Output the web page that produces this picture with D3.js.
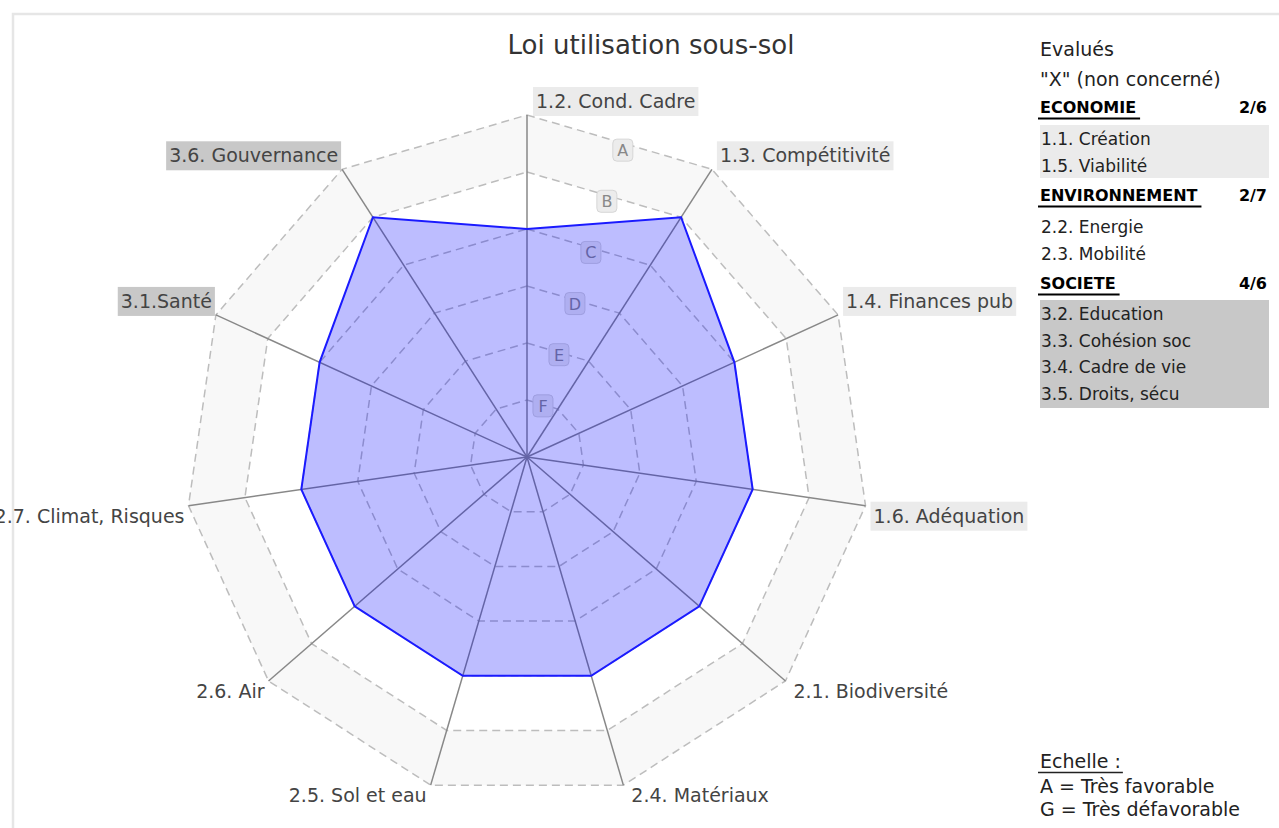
<!DOCTYPE html>
<html><head><meta charset="utf-8">
<script src="https://cdn.jsdelivr.net/npm/d3@7"></script>
<style>body{margin:0;background:#fff;overflow:hidden}svg{display:block}text{font-family:"DejaVu Sans",Verdana,sans-serif}</style>
</head><body>
<svg id="chart" width="1279" height="828"></svg>
<script>
// ---- data ----
const title = "Loi utilisation sous-sol";
const axes = ["1.2. Cond. Cadre", "1.3. Compétitivité", "1.4. Finances pub", "1.6. Adéquation",
  "2.1. Biodiversité", "2.4. Matériaux", "2.5. Sol et eau", "2.6. Air",
  "2.7. Climat, Risques", "3.1.Santé", "3.6. Gouvernance"];
const axisGroup = ["eco","eco","eco","eco","env","env","env","env","env","soc","soc"];
const values = [4, 5, 4, 4, 4, 4, 4, 4, 4, 4, 5];
const levelLabels = ["G", "F", "E", "D", "C", "B", "A"]; // level 0..6
const legendHead = ["Evalués", "\"X\" (non concerné)"];
const groupNames = ["ECONOMIE", "ENVIRONNEMENT", "SOCIETE"];
const groupKeys = ["eco", "env", "soc"];
const groupCounts = ["2/6", "2/7", "4/6"];
const groupItems = [["1.1. Création", "1.5. Viabilité"],
  ["2.2. Energie", "2.3. Mobilité"],
  ["3.2. Education", "3.3. Cohésion soc", "3.4. Cadre de vie", "3.5. Droits, sécu"]];
const scaleTitle = "Echelle :";
const scaleLines = ["A = Très favorable", "G = Très défavorable"];

// ---- styles ----
const groupFill = {eco: "#ebebeb", env: "none", soc: "#c8c8c8"};
const svg = d3.select("#chart");
const cx = 527, cy = 457, R = 342;
const n = axes.length;
const r = d3.scaleLinear().domain([0, 6]).range([0, R]);
const ang = d3.scaleLinear().domain([0, n]).range([0, 2 * Math.PI]);
const pt = (rad, a) => [cx + rad * Math.sin(a), cy - rad * Math.cos(a)];
const line = d3.line().curve(d3.curveLinearClosed);

// frame
svg.append("rect").attr("x", 13).attr("y", 14).attr("width", 1300).attr("height", 850)
  .attr("fill", "#fff").attr("stroke", "#e6e6e6").attr("stroke-width", 2.5);

// bands
const levels = d3.range(6, 0, -1);
levels.forEach(k => {
  svg.append("path").attr("d", line(d3.range(n).map(i => pt(r(k), ang(i)))))
    .attr("fill", k === 6 ? "#f8f8f8" : "#ffffff").attr("stroke", "none");
});
// rings
levels.forEach(k => {
  svg.append("path").attr("d", line(d3.range(n).map(i => pt(r(k), ang(i)))))
    .attr("fill", "none").attr("stroke", "#bdbdbd").attr("stroke-width", 1.5)
    .attr("stroke-dasharray", "8,5");
});
// axes
d3.range(n).forEach(i => {
  const p = pt(r(6), ang(i));
  svg.append("line").attr("x1", cx).attr("y1", cy).attr("x2", p[0]).attr("y2", p[1])
    .attr("stroke", "#888").attr("stroke-width", 1.5);
});
// level labels
const la = ang(0.53);
d3.range(1, 7).forEach(k => {
  const p = pt(r(k) * 0.94, la);
  const g = svg.append("g").attr("transform", `translate(${p[0]},${p[1]})`);
  g.append("rect").attr("x", -10).attr("y", -11).attr("width", 20).attr("height", 22).attr("rx", 4)
    .attr("fill", "#ececec").attr("stroke", "#d6d6d6").attr("stroke-width", 1);
  g.append("text").attr("text-anchor", "middle").attr("y", 6).attr("font-size", 16)
    .attr("fill", "#888").text(levelLabels[k]);
});
// data polygon
svg.append("path").attr("d", line(values.map((v, i) => pt(r(v), ang(i)))))
  .attr("fill", "#0000ff").attr("fill-opacity", 0.26)
  .attr("stroke", "#1a1aff").attr("stroke-width", 2).attr("stroke-linejoin", "miter");

// axis labels
axes.forEach((name, i) => {
  const a = ang(i);
  const p = pt(r(6), a);
  const right = Math.sin(a) >= -1e-6;
  const up = Math.cos(a) > 0;
  const cyL = up ? p[1] - 14 : p[1] + 10;
  const g = svg.append("g");
  const t = g.append("text").attr("font-size", 19).attr("fill", "#444")
    .attr("x", right ? p[0] + (i === 0 ? 9 : 8) : p[0] - 4)
    .attr("y", cyL + 7).attr("text-anchor", right ? "start" : "end").text(name);
  const fill = groupFill[axisGroup[i]];
  if (fill !== "none") {
    const bb = t.node().getBBox();
    g.insert("rect", "text").attr("x", bb.x - 3).attr("y", cyL - 14).attr("width", bb.width + 6)
      .attr("height", 29).attr("fill", fill);
  }
});

// title
svg.append("text").attr("x", 651).attr("y", 54).attr("text-anchor", "middle")
  .attr("font-size", 26).attr("fill", "#333").text(title);

// legend
const lx = 1040, rx = 1267;
svg.selectAll(".lh").data(legendHead).join("text").attr("class", "lh")
  .attr("x", lx).attr("y", (d, i) => 56 + i * 30).attr("font-size", 19).attr("fill", "#222").text(d => d);
const headY = [113, 201, 289];
const boxY = [125, 213, 300];
const boxH = [53, 53, 108];
groupNames.forEach((gname, gi) => {
  const y = headY[gi];
  const t = svg.append("text").attr("x", lx).attr("y", y).attr("font-size", 16)
    .attr("font-weight", "bold").attr("fill", "#000").text(gname);
  const w = t.node().getComputedTextLength();
  svg.append("line").attr("x1", lx - 2).attr("x2", lx + w + 4).attr("y1", y + 5.5).attr("y2", y + 5.5)
    .attr("stroke", "#000").attr("stroke-width", 2);
  svg.append("text").attr("x", rx).attr("y", y).attr("text-anchor", "end").attr("font-size", 16)
    .attr("font-weight", "bold").attr("fill", "#000").text(groupCounts[gi]);
  const f = groupFill[groupKeys[gi]];
  svg.append("rect").attr("x", lx).attr("y", boxY[gi]).attr("width", 229).attr("height", boxH[gi])
    .attr("fill", f === "none" ? "#fff" : f);
  groupItems[gi].forEach((it, j) => {
    svg.append("text").attr("x", lx + 1).attr("y", boxY[gi] + 20 + j * 26.5).attr("font-size", 17)
      .attr("fill", "#222").text(it);
  });
});
// scale legend
const st = svg.append("text").attr("x", lx).attr("y", 768).attr("font-size", 19).attr("fill", "#222").text(scaleTitle);
const sw = st.node().getComputedTextLength();
svg.append("line").attr("x1", lx - 2).attr("x2", lx + sw + 2).attr("y1", 772.5).attr("y2", 772.5)
  .attr("stroke", "#222").attr("stroke-width", 1.5);
scaleLines.forEach((s, i) => {
  svg.append("text").attr("x", lx).attr("y", 793 + i * 23).attr("font-size", 19).attr("fill", "#222").text(s);
});
</script>
</body></html>
